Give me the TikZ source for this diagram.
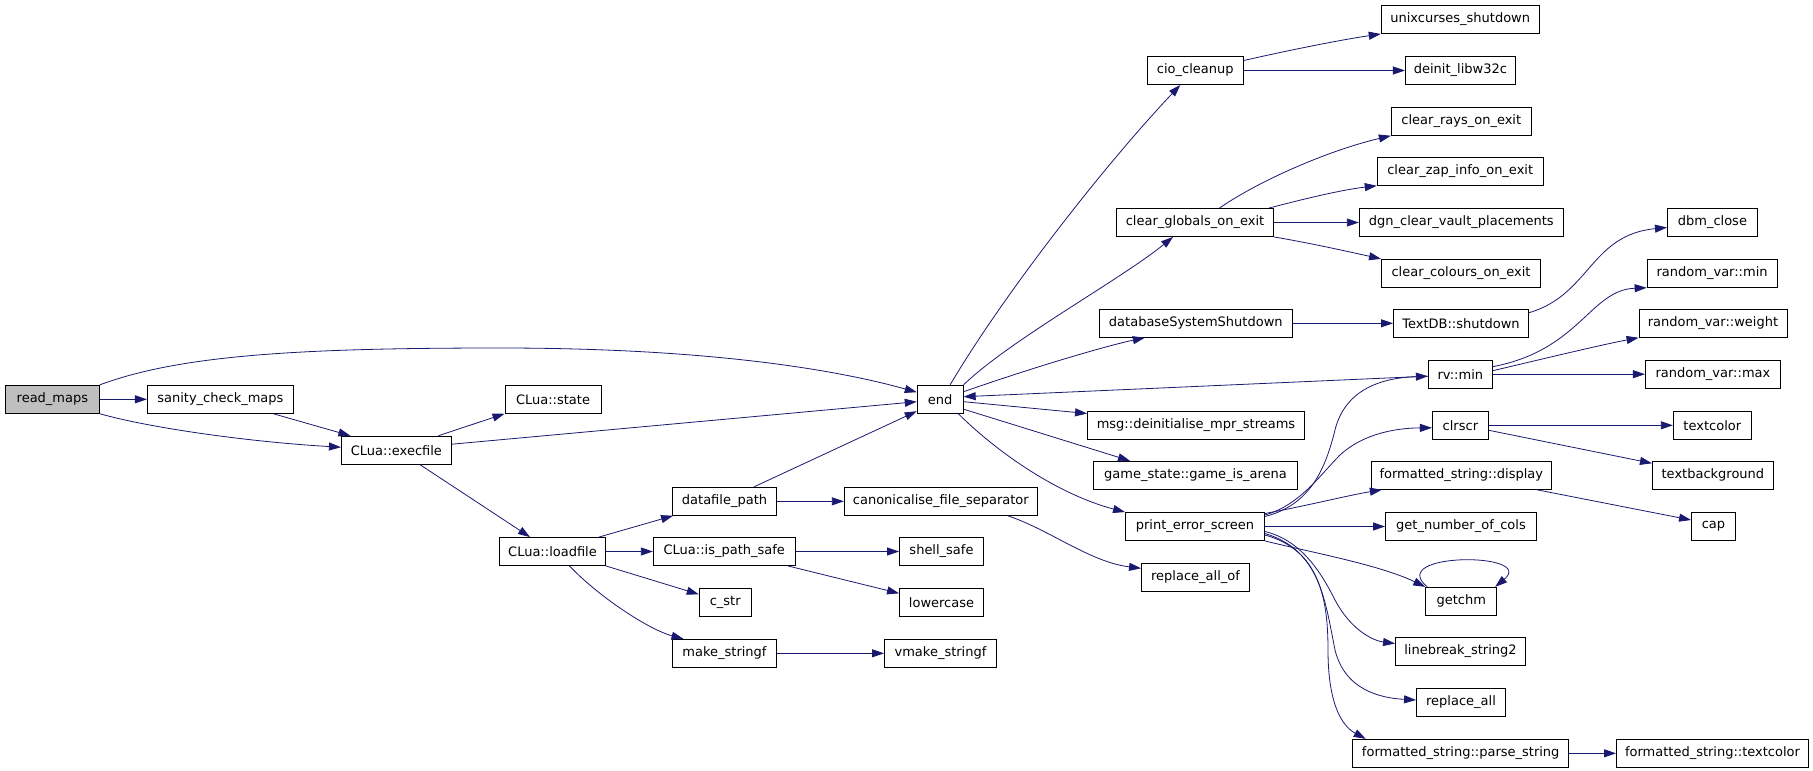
\documentclass[tikz,border=0pt]{standalone}
\usepackage{fontspec}
\setmainfont{DejaVu Sans}
\usetikzlibrary{arrows.meta}
\definecolor{edgeblue}{HTML}{191970}
\definecolor{rootgray}{HTML}{BFBFBF}
\begin{document}
\begin{tikzpicture}[x=1pt,y=-1pt,
  fn/.style={draw=black, line width=0.9pt, minimum height=28pt, inner xsep=2pt, inner ysep=0pt,
    font=\fontsize{13}{15}\selectfont, text=black},
  call/.style={draw=edgeblue, line width=0.8pt, -{Triangle[length=12pt,width=8pt]}}]
\useasboundingbox (0,0) rectangle (1813,771);
% column 1-2
\node[fn, fill=rootgray, minimum width=94pt] (readmaps) at (52.4,399.3) {read\_maps};
\node[fn, minimum width=146pt] (sanity) at (220.4,399.3) {sanity\_check\_maps};
\node[fn, minimum width=110pt] (execfile) at (396.4,450.2) {CLua::execfile};
\node[fn, minimum width=96pt] (state) at (553,399.3) {CLua::state};
\node[fn, minimum width=106pt] (loadfile) at (552.5,551.5) {CLua::loadfile};
\node[fn, minimum width=104pt] (datafile) at (724.5,501.3) {datafile\_path};
\node[fn, minimum width=142pt] (ispathsafe) at (724.3,551.5) {CLua::is\_path\_safe};
\node[fn, minimum width=52pt] (cstr) at (725.2,602.3) {c\_str};
\node[fn, minimum width=104pt] (makestringf) at (724.5,653.3) {make\_stringf};
\node[fn, minimum width=193pt] (canon) at (940.8,501.3) {canonicalise\_file\_separator};
\node[fn, minimum width=84pt] (shellsafe) at (941.5,551.5) {shell\_safe};
\node[fn, minimum width=84pt] (lowercase) at (941.5,602.3) {lowercase};
\node[fn, minimum width=112pt] (vmake) at (940.5,653.3) {vmake\_stringf};
\node[fn, minimum width=46pt] (endn) at (940.2,399.2) {end};
% column 3
\node[fn, minimum width=96pt] (cio) at (1195.3,70.5) {cio\_cleanup};
\node[fn, minimum width=157pt] (clearglobals) at (1195,222.5) {clear\_globals\_on\_exit};
\node[fn, minimum width=193pt] (dbshutdown) at (1195.8,323.3) {databaseSystemShutdown};
\node[fn, minimum width=217pt] (msg) at (1196,425.5) {msg::deinitialise\_mpr\_streams};
\node[fn, minimum width=204pt] (gamestate) at (1195.5,475.3) {game\_state::game\_is\_arena};
\node[fn, minimum width=139pt] (printerr) at (1195,526.5) {print\_error\_screen};
\node[fn, minimum width=108pt] (replaceallof) at (1195.5,577.3) {replace\_all\_of};
% column 4
\node[fn, minimum width=158pt] (unix) at (1460.2,19.5) {unixcurses\_shutdown};
\node[fn, minimum width=110pt] (deinit) at (1460.4,70.5) {deinit\_libw32c};
\node[fn, minimum width=140pt] (rays) at (1461.3,121.3) {clear\_rays\_on\_exit};
\node[fn, minimum width=166pt] (zap) at (1460.2,171.3) {clear\_zap\_info\_on\_exit};
\node[fn, minimum width=204pt] (dgn) at (1461.3,222.5) {dgn\_clear\_vault\_placements};
\node[fn, minimum width=159pt] (colours) at (1461,273.3) {clear\_colours\_on\_exit};
\node[fn, minimum width=135pt] (textdb) at (1461,323.3) {TextDB::shutdown};
\node[fn, minimum width=64pt] (rvmin) at (1460.3,374.2) {rv::min};
\node[fn, minimum width=56pt] (clrscr) at (1460.4,425.3) {clrscr};
\node[fn, minimum width=180pt] (fsdisplay) at (1461.3,475.3) {formatted\_string::display};
\node[fn, minimum width=151pt] (ncols) at (1461,526.5) {get\_number\_of\_cols};
\node[fn, minimum width=71pt] (getchm) at (1461.2,601.3) {getchm};
\node[fn, minimum width=130pt] (linebreak) at (1460.5,651.5) {linebreak\_string2};
\node[fn, minimum width=89pt] (replaceall) at (1461,702.5) {replace\_all};
\node[fn, minimum width=216pt] (parsestring) at (1460.7,753.3) {formatted\_string::parse\_string};
% column 5
\node[fn, minimum width=90pt] (dbm) at (1712.4,222.5) {dbm\_close};
\node[fn, minimum width=130pt] (rvarmin) at (1712.1,273.3) {random\_var::min};
\node[fn, minimum width=148pt] (rvarweight) at (1713,323.3) {random\_var::weight};
\node[fn, minimum width=135pt] (rvarmax) at (1712.9,374.2) {random\_var::max};
\node[fn, minimum width=78pt] (textcolor) at (1712.3,425.3) {textcolor};
\node[fn, minimum width=121pt] (textbg) at (1712.9,475.3) {textbackground};
\node[fn, minimum width=44pt] (capn) at (1713.5,526.5) {cap};
\node[fn, minimum width=192pt] (fstextcolor) at (1712.5,753.3) {formatted\_string::textcolor};

% edges from the left part
\draw[call] (readmaps.north east) .. controls (180,355) and (300,348) .. (500,348) .. controls (700,348) and (830,368) .. ([yshift=7pt]endn.west);
\draw[call] (readmaps) -- (sanity);
\draw[call] (readmaps.south east) .. controls (150,428) and (250,442) .. ([yshift=3pt]execfile.west);
\draw[call] ([xshift=53pt]sanity.south) -- ([xshift=-46pt]execfile.north);
\draw[call] ([xshift=42pt]execfile.north) -- (state.south west);
\draw[call] ([yshift=6pt]execfile.east) -- ([yshift=-2.5pt]endn.west);
\draw[call] ([xshift=23.6pt]execfile.south) -- ([xshift=-22.5pt]loadfile.north);
\draw[call] ([xshift=46.5pt]loadfile.north) -- ([xshift=1pt]datafile.south west);
\draw[call] (loadfile) -- (ispathsafe);
\draw[call] (loadfile.south east) -- ([yshift=8pt]cstr.west);
\draw[call] ([xshift=17pt]loadfile.south) .. controls (600,598) and (650,630) .. ([xshift=-41pt]makestringf.north);
\draw[call] ([xshift=29.5pt]datafile.north) -- ([yshift=-12pt]endn.west);
\draw[call] (datafile) -- (canon);
\draw[call] (ispathsafe) -- (shellsafe);
\draw[call] ([xshift=63.7pt]ispathsafe.south) -- ([yshift=9pt]lowercase.west);
\draw[call] (makestringf) -- (vmake);
\draw[call] ([xshift=67pt]canon.south) .. controls (1050,530) and (1090,562) .. ([yshift=9pt]replaceallof.west);

% edges from end
\draw[call] ([xshift=10pt]endn.north) .. controls (1000,300) and (1100,170) .. ([xshift=-15pt]cio.south);
\draw[call] (endn.north east) .. controls (1010,340) and (1120,280) .. ([xshift=-22pt]clearglobals.south);
\draw[call] ([yshift=7.5pt]endn.east) .. controls (1040,365) and (1110,345) .. ([xshift=-51pt]dbshutdown.south);
\draw[call] ([yshift=-2pt]rvmin.west) -- ([yshift=2.5pt]endn.east);
\draw[call] ([yshift=-2.5pt]endn.east) -- ([yshift=12pt]msg.west);
\draw[call] ([yshift=-10pt]endn.east) -- ([xshift=-65.5pt]gamestate.north);
\draw[call] ([xshift=18pt]endn.south) .. controls (1000,455) and (1060,495) .. (printerr.north west);

% column 3 outgoing
\draw[call] ([yshift=10pt]cio.east) .. controls (1290,50) and (1340,40) .. (unix.south west);
\draw[call] (cio) -- (deinit);
\draw[call] ([xshift=24.5pt]clearglobals.north) .. controls (1260,180) and (1330,150) .. (rays.south west);
\draw[call] ([xshift=-5pt]clearglobals.north east) .. controls (1300,200) and (1340,190) .. (zap.south west);
\draw[call] (clearglobals) -- (dgn);
\draw[call] (clearglobals.south east) .. controls (1310,243) and (1350,252) .. (colours.north west);
\draw[call] (dbshutdown) -- (textdb);
\draw[call] ([yshift=10.6pt]textdb.east) .. controls (1590,295) and (1590,235) .. ([yshift=-5pt]dbm.west);

% rv::min
\draw[call] ([yshift=7.5pt]rvmin.east) .. controls (1580,350) and (1590,290) .. (rvarmin.south west);
\draw[call] ([yshift=3.5pt]rvmin.east) .. controls (1530,362) and (1600,345) .. (rvarweight.south west);
\draw[call] (rvmin) -- (rvarmax);

% print_error_screen
\draw[call] ([yshift=10pt]printerr.east) .. controls (1310,505) and (1325,470) .. (1335,430) .. controls (1345,390) and (1380,378) .. ([yshift=-2pt]rvmin.west);
\draw[call] ([yshift=11.5pt]printerr.east) .. controls (1300,505) and (1320,475) .. (1340,455) .. controls (1365,432) and (1400,428) .. ([yshift=-2.5pt]clrscr.west);
\draw[call] ([yshift=13pt]printerr.east) .. controls (1310,505) and (1350,495) .. ([xshift=11pt]fsdisplay.south west);
\draw[call] (printerr) -- (ncols);
\draw[call] (printerr.south east) .. controls (1310,552) and (1380,565) .. (getchm.north west);
\draw[call] ([xshift=2pt]getchm.north west) .. controls (1385,552) and (1537,552) .. ([xshift=-2pt]getchm.north east);
\draw[call] ([yshift=-5pt]printerr.east) .. controls (1300,540) and (1320,570) .. (1335,600) .. controls (1352,632) and (1375,641) .. ([yshift=8pt]linebreak.west);
\draw[call] ([yshift=-7pt]printerr.east) .. controls (1320,550) and (1325,600) .. (1335,650) .. controls (1345,690) and (1380,698) .. ([yshift=2.5pt]replaceall.west);
\draw[call] ([yshift=-8.5pt]printerr.east) .. controls (1320,550) and (1328,600) .. (1328,650) .. controls (1328,700) and (1340,725) .. ([xshift=-95pt]parsestring.north);

% column 4 outgoing
\draw[call] (clrscr) -- (textcolor);
\draw[call] ([yshift=-5pt]clrscr.east) -- ([yshift=12pt]textbg.west);
\draw[call] ([xshift=-15pt]fsdisplay.south east) -- ([yshift=6.5pt]capn.west);
\draw[call] (parsestring) -- (fstextcolor);
\end{tikzpicture}
\end{document}
